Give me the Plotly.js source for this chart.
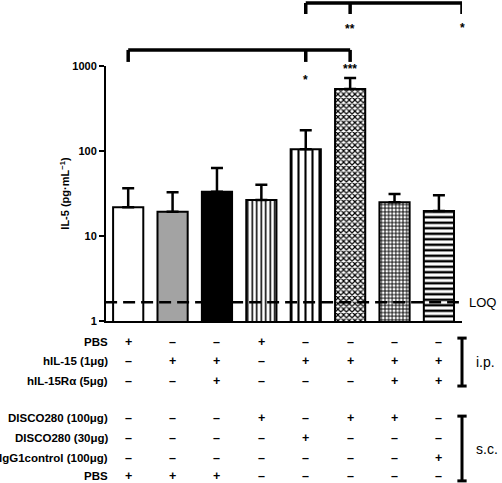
<!DOCTYPE html>
<html>
<head>
<meta charset="utf-8">
<script src="https://cdn.plot.ly/plotly-3.0.1.min.js"></script>
<style>html,body{margin:0;padding:0;background:#fff}#chart{width:502px;height:483px}</style>
</head>
<body>
<div id="chart"></div>
<script>
// ---- data ----
const groups = [0, 1, 2, 3, 4, 5, 6, 7];
const il5Mean = [21.8, 19.3, 33.2, 26.5, 105, 535, 25, 19.7];
const il5Upper = [36.4, 32.7, 63, 40, 175, 722, 31.2, 30.1];
const loq = 1.66;
const loqX = [-0.52, 7.45];
const yTickVals = [1, 10, 100, 1000];
const yTickText = ['1', '10', '100', '1000'];
const fillColors = ['#ffffff', '#a3a3a3', '#000000', '#ffffff', '#ffffff', '#ffffff', '#ffffff', '#ffffff'];
const patternShapes = ['', '', '', '|', '|', 'x', '+', '-'];
const patternSizes = [6, 6, 6, 4.5, 7, 4, 3.6, 5.5];
const patternSolidity = [0.3, 0.3, 0.3, 0.35, 0.3, 0.5, 0.45, 0.45];

const rowLabels = ['PBS', 'hIL-15 (1\u03bcg)', 'hIL-15R\u03b1 (5\u03bcg)',
  'DISCO280 (100\u03bcg)', 'DISCO280 (30\u03bcg)', 'IgG1control (100\u03bcg)', 'PBS'];
const rowSigns = [
  ['+', '-', '-', '+', '-', '-', '-', '-'],
  ['-', '+', '+', '-', '+', '+', '+', '+'],
  ['-', '-', '+', '-', '-', '-', '+', '+'],
  ['-', '-', '-', '+', '-', '+', '+', '-'],
  ['-', '-', '-', '-', '+', '-', '-', '-'],
  ['-', '-', '-', '-', '-', '-', '-', '+'],
  ['+', '+', '+', '-', '-', '-', '-', '-']
];
const routeLabels = ['i.p.', 's.c.'];
const sigLower = {left: 0, mid: 4, right: 5, stars: ['*', '***']};
const sigUpper = {left: 4, mid: 5, right: 7.52, stars: ['**', '*']};

// ---- layout helpers ----
const FONT = 'Liberation Sans, Arial, Helvetica, sans-serif';
const rowY = [-0.082, -0.157, -0.235, -0.380, -0.459, -0.537, -0.606];

const annotations = [];
const shapes = [];

// table
rowLabels.forEach((lab, i) => {
  annotations.push({xref: 'paper', yref: 'paper', x: 0.008, y: rowY[i], xanchor: 'right', yanchor: 'middle',
    text: lab, showarrow: false, borderpad: 0, font: {family: FONT, size: 11.5, color: '#000', weight: 'bold'}});
  rowSigns[i].forEach((s, j) => {
    annotations.push({xref: 'x', yref: 'paper', x: groups[j], y: rowY[i], xanchor: 'center', yanchor: 'middle',
      text: s === '+' ? '+' : '\u2013', showarrow: false, borderpad: 0,
      font: {family: FONT, size: 12.5, color: '#000', weight: 'bold'}});
  });
});

// route brackets
const routeSpans = [[-0.067, -0.255], [-0.373, -0.627]];
routeSpans.forEach((sp, k) => {
  shapes.push({type: 'line', xref: 'paper', yref: 'paper', x0: 1.0, x1: 1.0, y0: sp[0], y1: sp[1], line: {color: '#000', width: 3}});
  shapes.push({type: 'line', xref: 'paper', yref: 'paper', x0: 0.987, x1: 1.013, y0: sp[0], y1: sp[0], line: {color: '#000', width: 3}});
  shapes.push({type: 'line', xref: 'paper', yref: 'paper', x0: 0.987, x1: 1.013, y0: sp[1], y1: sp[1], line: {color: '#000', width: 3}});
  annotations.push({xref: 'paper', yref: 'paper', x: 1.034, y: (sp[0] + sp[1]) / 2, xanchor: 'left', yanchor: 'middle',
    text: routeLabels[k], showarrow: false, font: {family: FONT, size: 14, color: '#000'}});
});

// significance brackets
function bracket(b, yLine, yTick, yStars) {
  const lw = 3.5;
  shapes.push({type: 'line', xref: 'x', yref: 'paper', x0: b.left, x1: b.right, y0: yLine, y1: yLine, line: {color: '#000', width: lw}});
  [b.left, b.mid, b.right].forEach(x => {
    shapes.push({type: 'line', xref: 'x', yref: 'paper', x0: x, x1: x, y0: yLine, y1: yTick, line: {color: '#000', width: lw}});
  });
  [b.mid, b.right].forEach((x, k) => {
    annotations.push({xref: 'x', yref: 'paper', x: x, y: yStars[k], xanchor: 'center', yanchor: 'middle',
      text: b.stars[k], showarrow: false, font: {family: FONT, size: 12, color: '#000', weight: 'bold'}});
  });
}
bracket(sigLower, 1.063, 1.016, [0.945, 0.99]);
bracket(sigUpper, 1.247, 1.204, [1.145, 1.148]);

annotations.push({xref: 'paper', yref: 'y', x: 1.014, y: Math.log10(loq), xanchor: 'left', yanchor: 'middle',
  text: 'LOQ', showarrow: false, font: {family: FONT, size: 13, color: '#000'}});

// one bar trace per group so each can carry its own fill pattern
const traces = groups.map((g, i) => {
  const pat = patternShapes[i]
    ? {shape: patternShapes[i], size: patternSizes[i], solidity: patternSolidity[i], fgcolor: '#000', bgcolor: '#fff', fillmode: 'replace'}
    : {shape: ''};
  return {
    type: 'bar',
    x: [g],
    y: [il5Mean[i]],
    width: 0.68,
    marker: {color: fillColors[i], line: {color: '#000', width: 2}, pattern: pat},
    error_y: {type: 'data', symmetric: false, array: [il5Upper[i] - il5Mean[i]], arrayminus: [0],
      color: '#000', thickness: 2.5, width: 6},
    hoverinfo: 'none'
  };
});

traces.push({
  type: 'scatter', mode: 'lines', x: loqX, y: [loq, loq],
  line: {color: '#000', width: 2.5, dash: '12px,6px'}, cliponaxis: false, hoverinfo: 'none'
});

const layout = {
  width: 502, height: 483,
  margin: {l: 106, r: 40, t: 66, b: 162},
  paper_bgcolor: '#fff', plot_bgcolor: '#fff',
  showlegend: false,
  barmode: 'overlay',
  xaxis: {range: [-0.5, 7.52], showline: true, linecolor: '#000', linewidth: 2, showticklabels: false,
    ticks: '', showgrid: false, zeroline: false, fixedrange: true},
  yaxis: {type: 'log', range: [0, 3], tickvals: yTickVals, ticktext: yTickText,
    showline: true, linecolor: '#000', linewidth: 2, ticks: 'outside', ticklen: 5, tickwidth: 2, tickcolor: '#000',
    showgrid: false, zeroline: false,
    tickfont: {family: FONT, size: 11, color: '#000', weight: 'bold'},
    title: {text: 'IL-5 (pg\u00b7mL<sup>\u22121</sup>)', standoff: 0, font: {family: FONT, size: 11, color: '#000', weight: 'bold'}}},
  shapes: shapes,
  annotations: annotations
};

Plotly.newPlot('chart', traces, layout, {staticPlot: true, displayModeBar: false});
</script>
</body>
</html>
